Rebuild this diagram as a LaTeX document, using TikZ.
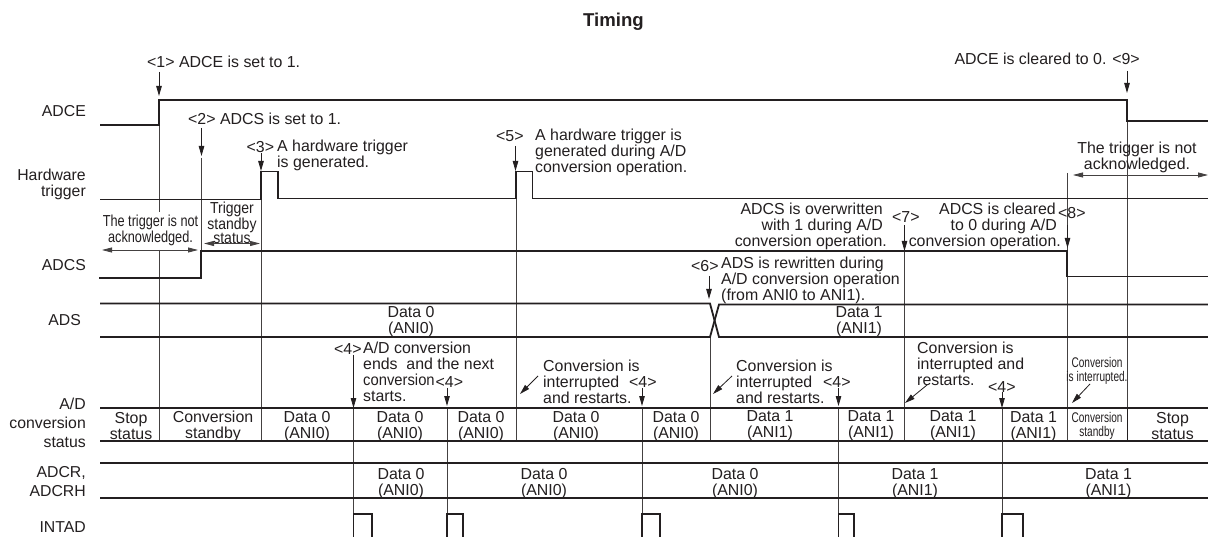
\documentclass[tikz,border=0pt]{standalone}
\usepackage{fontspec}
\setmainfont{Liberation Sans}
\usetikzlibrary{arrows.meta}
\definecolor{ink}{HTML}{231F20}
\tikzset{
  sig/.style={draw=ink,line width=1.8pt,line cap=butt,line join=miter},
  guide/.style={draw=ink!85,line width=1pt},
  point/.style={draw=ink,line width=0.8pt,-{Triangle[length=10pt,width=5.5pt]}},
  span/.style={draw=ink!85,line width=0.8pt,{Triangle[length=10pt,width=5pt]}-{Triangle[length=10pt,width=5pt]}},
  body/.style={text=ink,inner sep=0pt,yshift=-1pt,font=\fontsize{15.9}{16}\selectfont},
  txtl/.style={body,anchor=west,align=left},
  txtc/.style={body,anchor=center,align=center},
  txtr/.style={body,anchor=east,align=right},
  lab/.style={text=ink,inner sep=0pt,anchor=east,align=right,font=\fontsize{15.8}{19}\selectfont},
  tight/.style={text=ink,inner sep=0pt,anchor=center,align=center,font=\fontsize{15.9}{14.5}\selectfont},
  cramped/.style={text=ink,inner sep=0pt,anchor=center,align=center,font=\fontsize{14}{14.5}\selectfont},
}
\begin{document}
\begin{tikzpicture}[x=1pt,y=-1pt]
\useasboundingbox[fill=white] (0,0) rectangle (1208,537);
\node[text=ink,inner sep=0pt,font=\fontsize{18.6}{20}\selectfont\bfseries] (title) at (613.5,21.5) {Timing};
% row labels
\node[lab] (lAdce) at (86,111) {ADCE};
\node[lab,font=\fontsize{15.8}{16}\selectfont] (lHw) at (86,184) {Hardware\\trigger};
\node[lab] (lAdcs) at (86,265) {ADCS};
\node[lab] (lAds) at (81,320) {ADS};
\node[lab] (lConv) at (86,423) {A/D\\conversion\\status};
\node[lab] (lAdcr) at (86,482) {ADCR,\\ADCRH};
\node[lab] (lInt) at (86,527) {INTAD};
% guides
\draw[guide] (159,100) -- (159,212) (159,250) -- (159,441);
\draw[guide] (201.5,158) -- (201.5,278);
\draw[guide] (261,199) -- (261,441);
\draw[guide] (516,198) -- (516,441);
\draw[guide] (710,337) -- (710,441);
\draw[guide] (353.5,408) -- (353.5,537);
\draw[guide] (447,408) -- (447,537);
\draw[guide] (642,408) -- (642,537);
\draw[guide] (838.5,408) -- (838.5,537);
\draw[guide] (1002,408) -- (1002,537);
\draw[guide] (904.5,251) -- (904.5,441);
\draw[guide] (1067.5,173) -- (1067.5,441);
\draw[guide] (1127,121) -- (1127,441);
\draw[sig] (1127.5,408) -- (1127.5,441);
% signals
\draw[sig] (100,125) -- (159,125) -- (159,100) -- (1127,100) -- (1127,121) -- (1208,121);
\draw[sig] (100,199.5) -- (261,199.5) -- (261,171.5) -- (278,171.5) -- (278,198.5) -- (516,198.5) -- (516,171.5) -- (532.5,171.5) -- (532.5,198.5) -- (1208,198.5);
\draw[sig] (99,278) -- (201,278) -- (201,251) -- (1067,251) -- (1067,276.5) -- (1208,276.5);
\draw[sig] (100,303.5) -- (710,303.5) -- (719,337) -- (1208,337);
\draw[sig] (100,337) -- (710,337) -- (719,304.5) -- (1208,304.5);
\draw[sig] (100,408) -- (1208,408);
\draw[sig] (100,441) -- (1208,441);
\draw[sig] (100,463) -- (1208,463);
\draw[sig] (100,498) -- (1208,498);
\draw[sig] (353.5,537) -- (353.5,514) -- (372,514) -- (372,537);
\draw[sig] (447,537) -- (447,514) -- (463,514) -- (463,537);
\draw[sig] (642,537) -- (642,514) -- (660,514) -- (660,537);
\draw[sig] (838.5,537) -- (838.5,514) -- (854,514) -- (854,537);
\draw[sig] (1002,537) -- (1002,514) -- (1023,514) -- (1023,537);
% annotation arrows
\draw[point] (159,72) -- (159,96);
\draw[point] (201.5,128) -- (201.5,156);
\draw[point] (261,153) -- (261,171);
\draw[point] (515.5,146) -- (515.5,171);
\draw[point] (709,276) -- (709,299);
\draw[point] (904.5,225) -- (904.5,251);
\draw[point] (1067.5,225) -- (1067.5,248);
\draw[point] (1127,71) -- (1127,93);
\draw[point] (353.5,355) -- (353.5,408);
\draw[point] (447,388) -- (447,406);
\draw[point] (642,388) -- (642,406);
\draw[point] (838.5,388) -- (838.5,406);
\draw[point] (1002,392) -- (1002,408);
\draw[point] (538,376) -- (520,394);
\draw[point] (732,376) -- (713,394);
\draw[point] (927,385) -- (905,403);
\draw[point] (1090,384) -- (1072,403);
\draw[span] (102,250) -- (198,250);
\draw[span] (204,243.5) -- (260,243.5);
\draw[span] (1073,175) -- (1208,175);
% callouts
\node[txtl] (n1) at (147,61) {<1> ADCE is set to 1.};
\node[txtl] (n2) at (188,118) {<2> ADCS is set to 1.};
\node[txtl] (n3a) at (246.5,146) {<3>};
\node[txtl] (n3) at (277,154.5) {A hardware trigger\\is generated.};
\node[txtl] (n5a) at (496,135) {<5>};
\node[txtl] (n5) at (535,151) {A hardware trigger is\\generated during A/D\\conversion operation.};
\node[txtr] (n7t) at (887,225) {ADCS is overwritten\kern4pt\\with 1 during A/D\kern4pt\\conversion operation.};
\node[txtl] (n7) at (892,216) {<7>};
\node[txtr] (n8t) at (1061,225) {ADCS is cleared\kern5pt\\to 0 during A/D\kern4pt\\conversion operation.};
\node[txtl] (n8) at (1058,212) {<8>};
\node[txtr] (n9) at (1140,58) {ADCE is cleared to 0. <9>};
\node[txtl] (n6) at (691,265) {<6>};
\node[txtl] (n6t) at (721,279) {ADS is rewritten during\\A/D conversion operation\\(from ANI0 to ANI1).};
\node[txtc] (ackR) at (1137,156) {The trigger is not\\acknowledged.};
\node[tight,xscale=0.8] (ackL) at (150.5,230) {The trigger is not\\acknowledged.};
\node[tight,xscale=0.88] (stby) at (232,223) {Trigger\\standby\\status};
\node[txtc] (d0) at (411,321) {Data 0\\(ANI0)};
\node[txtc] (d1) at (859,321) {Data 1\\(ANI1)};
\node[txtl] (n4a) at (334,348) {<4>};
\node[txtl] (n4t) at (363,370.5) {A/D conversion\\ends\ \ and the next\\\scalebox{0.93}[1]{conversion}\\starts.};
\node[txtl] (n4b) at (435.5,381) {<4>};
\node[txtl] (n4c) at (629,381) {<4>};
\node[txtl] (n4d) at (823,381) {<4>};
\node[txtl] (n4e) at (988,386) {<4>};
\node[txtl] (ir1) at (543,381) {Conversion is\\interrupted\\and restarts.};
\node[txtl] (ir2) at (736,381) {Conversion is\\interrupted\\and restarts.};
\node[txtl] (ir3) at (917,363) {Conversion is\\interrupted and\\restarts.};
\node[cramped,xscale=0.72] (ir4) at (1097,371) {Conversion\\is interrupted.};
% status row
\node[txtc] (s1) at (131,425) {Stop\\status};
\node[txtc] (s2) at (213,425) {Conversion\\standby};
\node[txtc] (s3) at (307,426) {Data 0\\(ANI0)};
\node[txtc] (s4) at (400,426) {Data 0\\(ANI0)};
\node[txtc] (s5) at (481,426) {Data 0\\(ANI0)};
\node[txtc] (s6) at (576,426) {Data 0\\(ANI0)};
\node[txtc] (s7) at (676,426) {Data 0\\(ANI0)};
\node[txtc] (s8) at (770,425) {Data 1\\(ANI1)};
\node[txtc] (s9) at (871,425) {Data 1\\(ANI1)};
\node[txtc] (s10) at (953,425) {Data 1\\(ANI1)};
\node[txtc] (s11) at (1033.5,426) {Data 1\\(ANI1)};
\node[cramped,xscale=0.72] (s12) at (1097,426) {Conversion\\standby};
\node[txtc] (s13) at (1172.5,425) {Stop\\status};
% ADCR row
\node[txtc] (r1) at (401,482.5) {Data 0\\(ANI0)};
\node[txtc] (r2) at (544,482.5) {Data 0\\(ANI0)};
\node[txtc] (r3) at (735,482.5) {Data 0\\(ANI0)};
\node[txtc] (r4) at (915,482.5) {Data 1\\(ANI1)};
\node[txtc] (r5) at (1108.5,482.5) {Data 1\\(ANI1)};
\end{tikzpicture}
\end{document}
